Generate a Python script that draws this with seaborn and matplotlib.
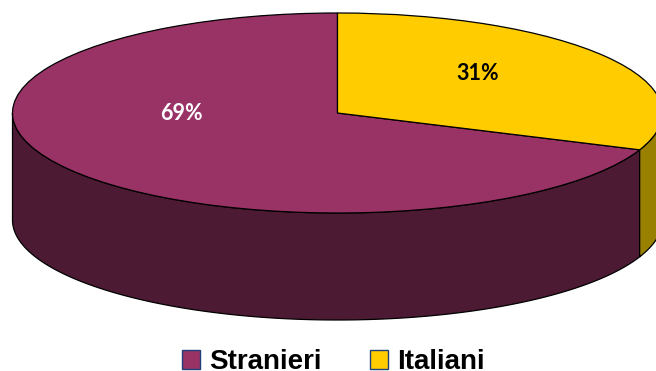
import numpy as np
import matplotlib
matplotlib.use("Agg")
import matplotlib.pyplot as plt
from matplotlib.patches import Patch
import seaborn as sns

# Share of people by origin
categories = ["Stranieri", "Italiani"]
shares = [69, 31]
top_colors = ["#993366", "#FFCC00"]
wall_colors = ["#4D1A33", "#998000"]
label_colors = ["white", "black"]

sns.set_theme(style="white")
plt.rcParams["font.family"] = ["Liberation Sans", "DejaVu Sans"]

W, H, dpi = 656, 371, 100
CX, CY, RX, RY, DEPTH = 337.5, 113, 325, 100, 107
START = 90.0

fig = plt.figure(figsize=(W / dpi, H / dpi), dpi=dpi, facecolor="white")
ax = fig.add_axes([0, 0, 1, 1])

wedges, _ = ax.pie(shares, colors=top_colors, startangle=START, counterclock=True,
                   radius=1, wedgeprops=dict(edgecolor="black", linewidth=0.9, zorder=3))

# The disc is flattened into an ellipse by giving up the equal aspect
ax.set_aspect("auto")
ax.set_xlim(-CX / RX, (W - CX) / RX)
ax.set_ylim((CY - H) / RY, CY / RY)
ax.set_axis_off()

# Side wall of the cylinder: only the front half of each slice is visible
depth = DEPTH / RY
fractions = np.cumsum([0] + shares) / sum(shares)
for i in range(len(shares)):
    a0 = START + 360 * fractions[i]
    a1 = START + 360 * fractions[i + 1]
    lo, hi = max(a0, 180), min(a1, 360)
    if hi <= lo:
        continue
    t = np.radians(np.linspace(lo, hi, 200))
    x, y = np.cos(t), np.sin(t)
    ax.fill(np.r_[x, x[::-1]], np.r_[y, y[::-1] - depth], facecolor=wall_colors[i],
            edgecolor="black", linewidth=0.9, zorder=2)

# Percentage labels on the top face
label_pos = [(-0.48, -0.01), (0.432, 0.39)]
for value, pos, color in zip(shares, label_pos, label_colors):
    ax.text(*pos, f"{value}%", color=color, ha="center", va="center",
            fontsize=15.5, fontweight="bold", family=["Lato", "DejaVu Sans"], zorder=5)

handles = [Patch(facecolor=c, edgecolor="#1F3F77", linewidth=1.0) for c in top_colors]
ax.legend(handles, categories, ncol=2, loc="lower left", bbox_to_anchor=(182 / W, -0.012),
          frameon=False, labelcolor="black",
          prop=dict(family="Liberation Sans", weight="bold", size=20),
          handlelength=0.65, handleheight=0.65, handletextpad=0.32, columnspacing=1.75,
          borderpad=0, borderaxespad=0)

fig.savefig("out.png", dpi=dpi, facecolor="white")
